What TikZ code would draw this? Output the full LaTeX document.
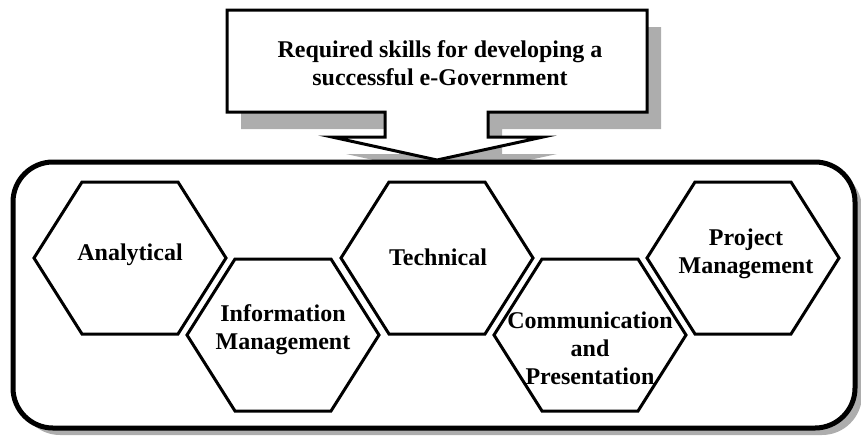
\documentclass[tikz,border=0pt]{standalone}
\usepackage{fontspec}
\setmainfont{Liberation Serif}
\begin{document}
\begin{tikzpicture}[x=1pt,y=-1pt,
  shadowfill/.style={fill=black!32,draw=none},
  calloutline/.style={draw=black,line width=3pt,line join=miter,fill=white},
  frameline/.style={draw=black,line width=5pt,fill=white,rounded corners=40pt},
  hexline/.style={draw=black,line width=3pt,line join=miter,fill=white},
  lbl/.style={font=\bfseries\fontsize{24}{28}\selectfont,align=center,inner sep=0pt}]
\useasboundingbox (0,0) rectangle (861,445);
\newcommand\calloutpath{(227,10) -- (647,10) -- (647,112) -- (488,112) -- (488,137) -- (543,137) -- (437,160) -- (332,137) -- (385,137) -- (385,112) -- (227,112) -- cycle}
\newcommand\myhex[2]{\draw[hexline] (#1-96,#2) -- (#1-48,#2-76) -- (#1+48,#2-76) -- (#1+96,#2) -- (#1+48,#2+76) -- (#1-48,#2+76) -- cycle;}
% callout shadow
\begin{scope}[shift={(14,17)}]
  \fill[shadowfill] \calloutpath;
\end{scope}
% frame shadow and frame
\fill[shadowfill,rounded corners=40pt] (20,169) rectangle (862,435);
\draw[frameline] (13,162) rectangle (855,428);
% callout
\draw[calloutline] \calloutpath;
\node[lbl] (title) at (440,63) {Required skills for developing a\\successful e-Government};
% hexagons
\myhex{130}{258}
\myhex{283}{335}
\myhex{437}{258}
\myhex{590}{335}
\myhex{743}{258}
\node[lbl,anchor=base] (analytical) at (130,260) {Analytical};
\node[lbl] (infomgmt) at (283,330) {Information\\Management};
\node[lbl,anchor=base] (technical) at (438,265) {Technical};
\node[lbl] (comm) at (590,348) {Communication\\and\\Presentation};
\node[lbl] (projmgmt) at (746,254) {Project\\Management};
\end{tikzpicture}
\end{document}
